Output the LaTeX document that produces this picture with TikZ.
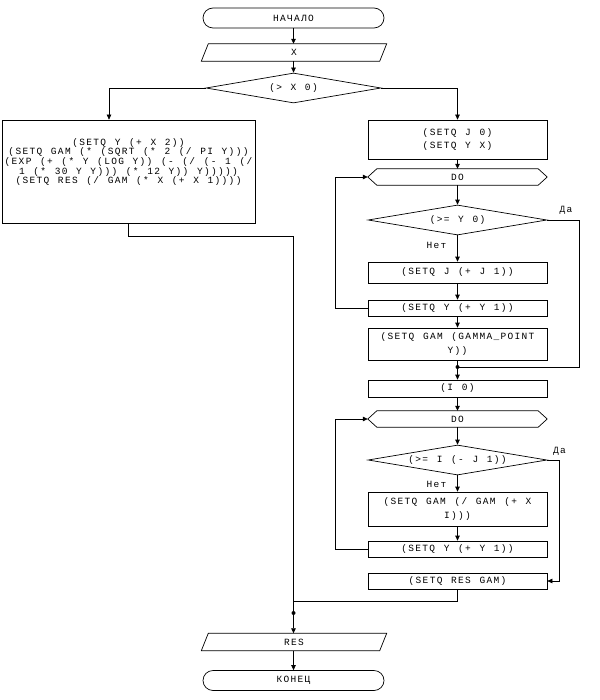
\documentclass[tikz,border=0pt]{standalone}
\usepackage{fontspec}
\setmonofont[LetterSpace=14,WordSpace=1.23]{Liberation Mono}
\usetikzlibrary{shapes.geometric,arrows.meta,calc}
\begin{document}
\begin{tikzpicture}[x=1pt,y=-1pt,
  every node/.style={font=\ttfamily\fontsize{9.5}{13}\selectfont, inner sep=0pt},
  box/.style={draw, rectangle, line width=0.7pt, minimum width=179pt, align=center},
  term/.style={draw, rectangle, line width=0.7pt, rounded corners=10pt, minimum width=181pt, minimum height=20pt},
  io/.style={rectangle, minimum width=178pt, minimum height=17pt},
  dec/.style={draw, diamond, line width=0.7pt, aspect=6, minimum height=30pt},
  hexa/.style={rectangle, minimum width=179pt, minimum height=16pt},
  arr/.style={-{Triangle[length=5pt,width=4.5pt]}},
  ln/.style={line width=0.7pt},
  lbl/.style={font=\ttfamily\fontsize{9.5}{12}\selectfont}
]
\fill[white] (0,0) rectangle (599,700);
\useasboundingbox (0,0) rectangle (599,700);

% top column
\node[term] (start) at (293.5,18) {НАЧАЛО};
\node[io] (inp) at (294,52.5) {X};
\draw[ln] ($(inp.south west)+(-3.5,0)$) -- ($(inp.north west)+(3.5,0)$) -- ($(inp.north east)+(3.5,0)$) -- ($(inp.south east)+(-3.5,0)$) -- cycle;
\node[dec, minimum width=175pt] (d1) at (293.5,88) {(> X 0)};

% left branch
\node[box, minimum width=253pt, minimum height=103pt] (lb) at (128.5,171.5) {};
\node[align=center, font=\ttfamily\fontsize{9.5}{9.6}\selectfont] (lbt) at (128.5,162) {(SETQ Y (+ X 2))\\(SETQ GAM (* (SQRT (* 2 (/ PI Y)))\\(EXP (+ (* Y (LOG Y)) (- (/ (- 1 (/\\1 (* 30 Y Y))) (* 12 Y)) Y)))))\\(SETQ RES (/ GAM (* X (+ X 1))))};

% right branch
\node[box, minimum height=39pt] (r1) at (457.5,139.5) {(SETQ J 0)\\(SETQ Y X)};
\node[hexa] (do1) at (457.5,177) {DO};
\draw[ln] (do1.west) -- ($(do1.north west)+(9,0)$) -- ($(do1.north east)+(-9,0)$) -- (do1.east) -- ($(do1.south east)+(-9,0)$) -- ($(do1.south west)+(9,0)$) -- cycle;
\node[dec, minimum width=179pt] (d2) at (457.5,220) {(>= Y 0)};
\node[box, minimum height=21pt] (r2) at (457.5,272.5) {(SETQ J (+ J 1))};
\node[box, minimum height=16pt] (r3) at (457.5,308) {(SETQ Y (+ Y 1))};
\node[box, minimum height=32pt, font=\ttfamily\fontsize{9.5}{14}\selectfont] (r4) at (457.5,344) {(SETQ GAM (GAMMA\_POINT\\Y))};
\coordinate (j1) at (457.5,367);
\node[box, minimum height=17pt] (r5) at (457.5,388.5) {(I 0)};
\node[hexa] (do2) at (457.5,419) {DO};
\draw[ln] (do2.west) -- ($(do2.north west)+(9,0)$) -- ($(do2.north east)+(-9,0)$) -- (do2.east) -- ($(do2.south east)+(-9,0)$) -- ($(do2.south west)+(9,0)$) -- cycle;
\node[dec, minimum width=179pt] (d3) at (457.5,460) {(>= I (- J 1))};
\node[box, minimum height=34pt, font=\ttfamily\fontsize{9.5}{14}\selectfont] (r6) at (457.5,509) {(SETQ GAM (/ GAM (+ X\\I)))};
\node[box, minimum height=16pt] (r7) at (457.5,549) {(SETQ Y (+ Y 1))};
\node[box, minimum height=16pt] (r8) at (457.5,581) {(SETQ RES GAM)};

% bottom column
\coordinate (j2) at (293.5,613);
\node[io] (out) at (294,642) {RES};
\draw[ln] ($(out.south west)+(-3.5,0)$) -- ($(out.north west)+(3.5,0)$) -- ($(out.north east)+(3.5,0)$) -- ($(out.south east)+(-3.5,0)$) -- cycle;
\node[term] (stop) at (293.5,680.5) {КОНЕЦ};

% labels
\node[lbl] (n1) at (436.5,245) {Нет};
\node[lbl] (y1) at (566,210) {Да};
\node[lbl] (n2) at (436.5,484) {Нет};
\node[lbl] (y2) at (559.5,451) {Да};

% connectors
\draw[ln,arr] (start) -- (start |- inp.north);
\draw[ln,arr] (inp.south -| d1.north) -- (d1);
\draw[ln,arr] (d1.west) -| ([xshift=-19.5pt]lb.north);
\draw[ln,arr] (d1.east) -| (r1.north);
\draw[ln,arr] (r1) -- (do1);
\draw[ln,arr] (do1) -- (d2);
\draw[ln,arr] (d2) -- (r2);
\draw[ln,arr] (r2) -- (r3);
\draw[ln,arr] (r3) -- (r4);
\draw[ln,arr] (r3.west) -- ++(-32,0) |- (do1.west);
\draw[ln] (d2.east) -- ++(32,0) |- (j1);
\draw[ln] (r4) -- (j1);
\fill (j1) circle (2pt);
\draw[ln,arr] (j1) -- (r5);
\draw[ln,arr] (r5) -- (do2);
\draw[ln,arr] (do2) -- (d3);
\draw[ln,arr] (d3) -- (r6);
\draw[ln,arr] (r6) -- (r7);
\draw[ln,arr] (r7.west) -- ++(-32,0) |- (do2.west);
\draw[ln,arr] (d3.east) -- ++(12,0) |- (r8.east);
\draw[ln] (r8.south) -- ++(0,12) -| (j2);
\draw[ln] (lb.south) -- ++(0,13) -| (j2);
\fill (j2) circle (2pt);
\draw[ln,arr] (j2) -- (j2 |- out.north);
\draw[ln,arr] (j2 |- out.south) -- (stop);
\end{tikzpicture}
\end{document}
